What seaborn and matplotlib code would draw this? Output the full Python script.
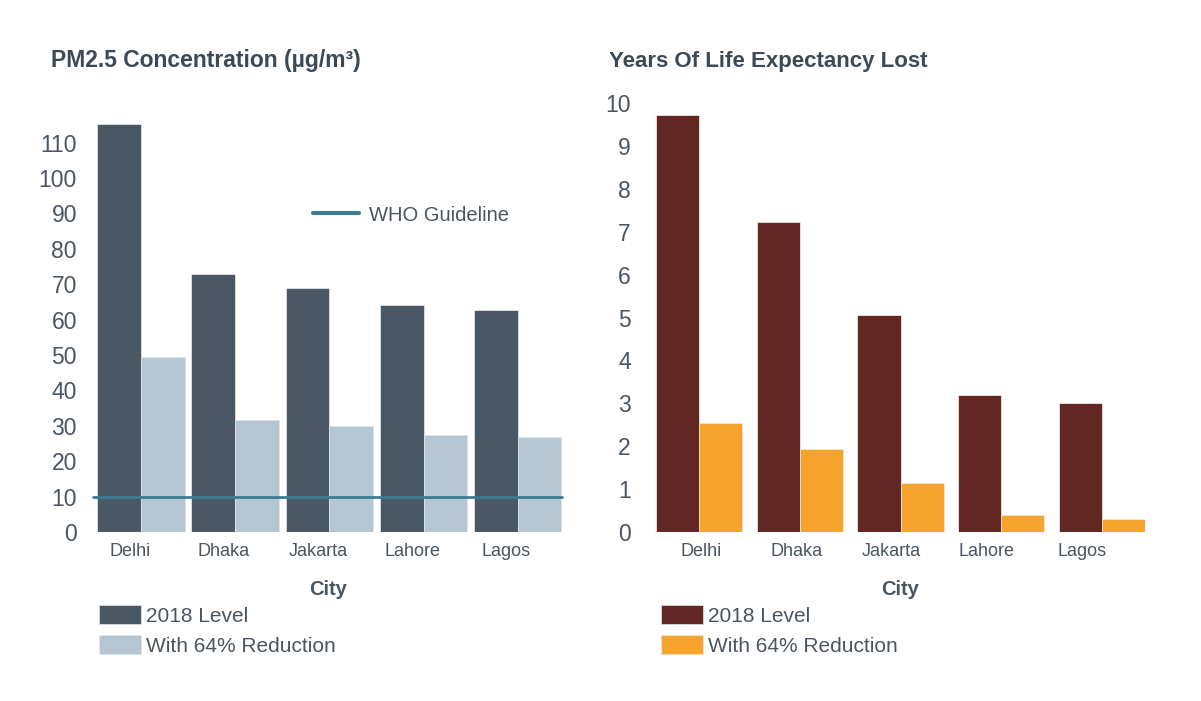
import pandas as pd
import seaborn as sns
import matplotlib.pyplot as plt
from matplotlib.lines import Line2D
from matplotlib.patches import Patch

cities = ['Delhi', 'Dhaka', 'Jakarta', 'Lahore', 'Lagos']
series = ['2018 Level', 'With 64% Reduction']
pm25_2018 = [115.2, 72.9, 68.9, 64.1, 62.7]
pm25_reduced = [49.4, 31.6, 29.9, 27.4, 26.8]
life_2018 = [9.72, 7.23, 5.06, 3.19, 3.01]
life_reduced = [2.54, 1.93, 1.14, 0.40, 0.30]
who_guideline = 10

text_col = '#4a5560'
left_colors = ['#4a5764', '#b3c6d1']
right_colors = ['#622722', '#f6a42c']

def long_df(a, b):
    return pd.DataFrame({
        'City': cities * 2,
        'Series': [series[0]] * len(cities) + [series[1]] * len(cities),
        'Value': a + b,
    })

sns.set_style('white')
plt.rcParams['font.family'] = ['Liberation Sans', 'DejaVu Sans']

fig = plt.figure(figsize=(12.01, 7.01), dpi=100)
ax1 = fig.add_axes([0.0791, 0.241, 0.3888, 0.606])
ax2 = fig.add_axes([0.5462, 0.241, 0.4072, 0.612])

# PM2.5 chart
sns.barplot(data=long_df(pm25_2018, pm25_reduced), x='City', y='Value', hue='Series',
            palette=dict(zip(series, left_colors)), saturation=1, width=0.93, gap=0,
            edgecolor='#dde3e8', linewidth=0.6, legend=False, ax=ax1)
ax1.axhline(who_guideline, color='#3d7b91', lw=2, xmin=-0.005, xmax=1, clip_on=False)
ax1.set_xlim(-0.49, 4.47)
ax1.set_ylim(0, 120)
ax1.set_yticks(range(0, 111, 10))
ax1.set_xticks([i - 0.12 for i in range(len(cities))])
ax1.set_xticklabels(cities)

# life expectancy chart
sns.barplot(data=long_df(life_2018, life_reduced), x='City', y='Value', hue='Series',
            palette=dict(zip(series, right_colors)), saturation=1, width=0.855, gap=0,
            edgecolor='#f0e4e0', linewidth=0.6, legend=False, ax=ax2)
ax2.set_xlim(-0.43, 4.43)
ax2.set_ylim(0, 10)
ax2.set_yticks(range(0, 11))
ax2.set_xticks([i * 0.945 + 0.02 for i in range(len(cities))])
ax2.set_xticklabels(cities)

for ax, ypad in ((ax1, 13), (ax2, 18)):
    sns.despine(ax=ax, left=True, bottom=True)
    ax.tick_params(axis='y', length=0, labelsize=16.5, labelcolor=text_col, pad=ypad)
    ax.tick_params(axis='x', length=0, labelsize=13, labelcolor=text_col, pad=8)
    ax.set_ylabel('')
    ax.set_xlabel('City', fontsize=14.5, fontweight='bold', color=text_col, labelpad=14)

fig.text(51 / 1201, 1 - 61 / 701, 'PM2.5 Concentration (µg/m³)', fontsize=16.5,
         fontweight='bold', color='#3d4a55', va='center')
fig.text(609 / 1201, 1 - 61 / 701, 'Years Of Life Expectancy Lost', fontsize=16,
         fontweight='bold', color='#3d4a55', va='center')

who = ax1.legend(handles=[Line2D([], [], color='#3d7b91', lw=3)], labels=['WHO Guideline'],
                 loc='center left', bbox_to_anchor=(313 / 1201, 1 - 215 / 701),
                 bbox_transform=fig.transFigure, frameon=False, borderpad=0,
                 borderaxespad=0, handlelength=2.3, handletextpad=0.5,
                 fontsize=14.5, labelcolor=text_col)

for x0, cols in ((99, left_colors), (661, right_colors)):
    handles = [Patch(facecolor=c, edgecolor='#e5e5e5', lw=0.5) for c in cols]
    fig.legend(handles=handles, labels=series, loc='upper left',
               bbox_to_anchor=(x0 / 1201, 1 - 605 / 701), frameon=False,
               borderpad=0, borderaxespad=0, handlelength=2.0, handleheight=1.05,
               handletextpad=0.25, labelspacing=0.45, fontsize=15, labelcolor=text_col)

fig.savefig('out.png', dpi=100, facecolor='white')
